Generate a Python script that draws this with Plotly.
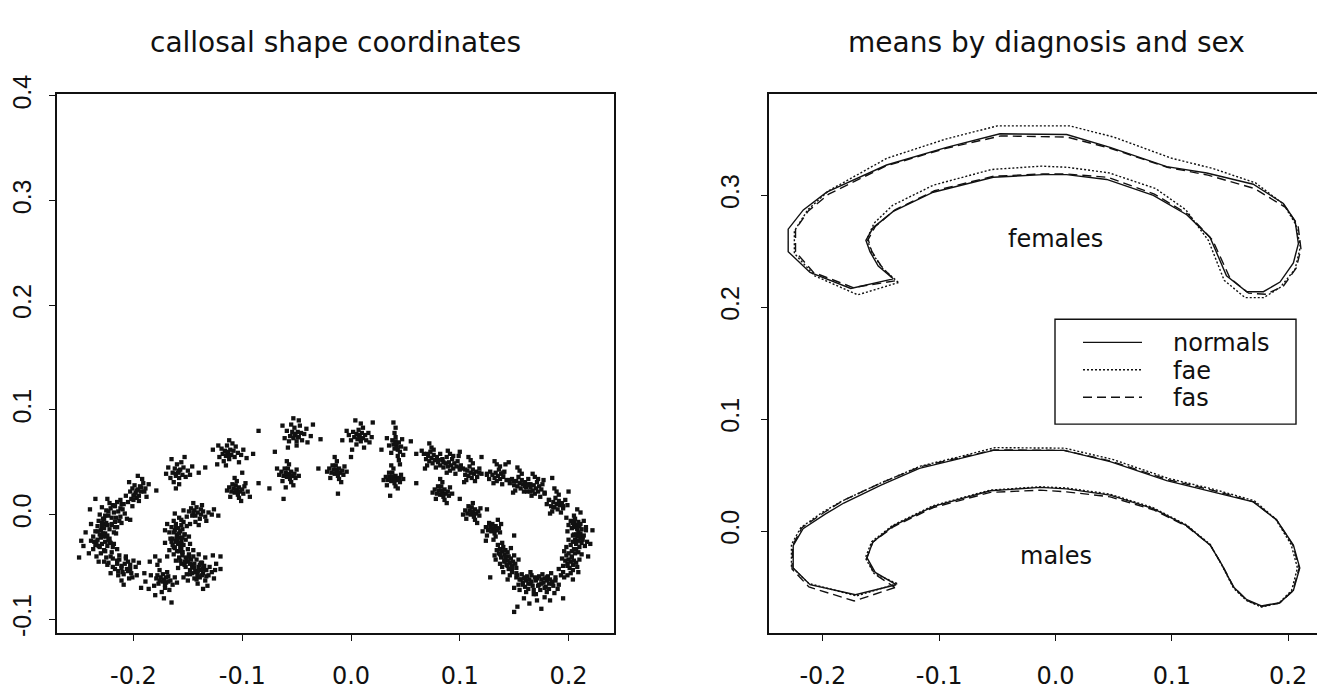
import plotly.graph_objects as go

# ---------------------------------------------------------------------------
# Landmark clouds (all subjects), coordinates in thousandths
# ---------------------------------------------------------------------------
outer_left = [
    # landmark near (-0.218, 0.002)
    (-218,2),(-216,-3),(-221,6),(-214,3),(-223,-1),(-219,9),(-212,-2),(-225,4),(-217,-7),(-210,5),(-222,11),
    (-227,-4),(-215,12),(-208,1),(-220,-10),(-229,7),(-213,-6),(-224,15),(-206,-4),(-231,0),(-211,10),(-226,-9),
    # (-0.227, -0.013)
    (-227,-13),(-224,-10),(-230,-15),(-226,-18),(-229,-8),(-222,-14),(-233,-11),(-225,-21),(-231,-19),(-220,-9),
    (-228,-4),(-235,-16),(-223,-24),(-218,-17),(-232,-6),(-237,-21),(-226,-1),(-215,-12),(-239,-9),(-221,-27),
    (-234,-26),(-244,-17),
    # (-0.229, -0.028)
    (-229,-28),(-231,-31),(-226,-26),(-233,-24),(-227,-34),(-224,-30),(-235,-29),(-230,-37),(-222,-23),(-237,-33),
    (-228,-21),(-220,-36),(-234,-40),(-225,-41),(-239,-25),(-218,-28),(-232,-45),(-241,-37),(-223,-46),(-215,-33),
    (-246,-30),(-250,-41),
    # (-0.208, -0.047)
    (-208,-47),(-211,-49),(-205,-45),(-213,-43),(-206,-52),(-203,-48),(-215,-47),(-210,-55),(-200,-44),(-217,-52),
    (-207,-40),(-202,-56),(-214,-58),(-198,-50),(-219,-42),(-204,-61),(-195,-46),(-221,-56),(-211,-63),(-197,-58),
    (-224,-48),(-209,-67),
    # (-0.198, 0.021)
    (-198,21),(-196,24),(-200,18),(-194,27),(-202,15),(-197,16),(-193,22),(-203,22),(-191,30),(-205,12),(-199,28),
    (-195,13),(-189,25),(-207,18),(-192,34),(-201,8),(-186,29),(-209,10),(-196,37),(-204,31),(-188,17),(-212,6),
    # (-0.172, -0.062)
    (-172,-62),(-170,-65),(-175,-60),(-168,-59),(-177,-66),(-173,-57),(-166,-63),(-179,-61),(-171,-70),(-164,-67),
    (-176,-53),(-181,-68),(-169,-55),(-162,-60),(-174,-74),(-184,-58),(-167,-72),(-160,-65),(-178,-48),(-186,-71),
    (-172,-80),(-165,-84),(-180,-77),(-189,-64),
    # dense core of the band
    (-220,-3),(-223,3),(-225,-8),(-228,-18),(-230,-22),(-232,-30),(-226,-35),(-221,-40),(-215,-44),(-211,-51),
    (-205,-54),(-213,-39),(-219,-31),(-224,-20),(-229,-12),(-216,-18),(-222,-26),(-217,8),(-211,-8),(-207,-42),
    (-203,-52),(-217,-12),(-233,-16),(-236,-26),(-227,-45),(-219,-50),(-214,-54),(-209,-57),(-201,-60),(-212,14),
    (-203,-5),(-199,19),(-197,23),(-201,25),(-195,18),(-193,26),(-200,14),(-190,22),
    (-173,-64),(-170,-60),(-176,-63),(-171,-67),(-168,-64),(-178,-58),
]

genu_hook = [
    # (-0.141, 0.002)
    (-141,2),(-144,4),(-138,0),(-146,-1),(-136,3),(-142,7),(-149,3),(-134,-2),(-139,-4),(-147,6),(-131,2),
    (-143,-7),(-151,-2),(-137,9),(-128,0),(-145,11),(-133,-6),(-154,4),(-140,-10),(-126,5),(-148,-9),(-122,-1),
    # (-0.159, -0.013)
    (-159,-13),(-161,-9),(-157,-16),(-162,-15),(-156,-10),(-160,-19),(-163,-6),(-155,-14),(-158,-22),(-165,-12),
    (-153,-19),(-161,-25),(-167,-17),(-154,-7),(-158,-3),(-169,-9),(-151,-11),(-164,-23),(-156,-28),(-171,-15),
    (-149,-21),(-162,1),
    # (-0.159, -0.028)
    (-159,-28),(-157,-31),(-161,-26),(-156,-25),(-162,-32),(-158,-35),(-160,-21),(-154,-29),(-164,-29),(-155,-36),
    (-163,-38),(-152,-24),(-166,-23),(-158,-41),(-150,-33),(-167,-34),(-153,-19),(-161,-44),(-148,-28),(-169,-40),
    (-156,-47),(-171,-27),
    # (-0.147, -0.043)
    (-147,-43),(-150,-45),(-145,-40),(-149,-38),(-144,-47),(-152,-41),(-146,-50),(-142,-43),(-153,-48),(-148,-53),
    (-140,-38),(-155,-36),(-143,-55),(-151,-57),(-138,-46),(-157,-44),(-145,-34),(-136,-52),(-154,-60),(-141,-59),
    (-159,-51),(-134,-41),
    # (-0.138, -0.053)
    (-138,-53),(-136,-56),(-140,-50),(-135,-49),(-141,-57),(-133,-53),(-139,-60),(-143,-54),(-131,-58),(-137,-46),
    (-144,-61),(-130,-50),(-134,-63),(-146,-48),(-128,-55),(-141,-66),(-126,-61),(-148,-57),(-132,-68),(-124,-47),
    (-127,-39),(-125,-53),(-150,-63),(-136,-71),
    # dense core of the hook
    (-143,-1),(-138,5),(-145,2),(-156,-5),(-161,-12),(-158,-18),(-163,-17),(-160,-24),(-157,-27),(-163,-31),
    (-160,-35),(-155,-39),(-151,-43),(-148,-47),(-144,-51),(-141,-54),(-137,-58),(-152,-50),(-149,-40),(-146,-56),
    (-155,-22),(-165,-26),(-156,-33),(-153,-45),(-139,-48),(-133,-59),(-142,-62),
]

upper_arc = [
    # (-0.159, 0.040)
    (-159,40),(-157,43),(-161,37),(-155,38),(-162,44),(-158,35),(-164,40),(-154,45),(-160,48),(-152,36),(-166,35),
    (-156,50),(-163,31),(-150,42),(-168,45),(-158,29),(-148,38),(-165,53),(-153,55),(-170,39),(-146,46),(-161,25),
    (-158,42),(-161,39),
    # (-0.113, 0.059)
    (-113,59),(-111,62),(-115,56),(-110,57),(-116,61),(-112,53),(-108,61),(-118,58),(-114,66),(-107,55),(-119,63),
    (-109,68),(-117,51),(-104,59),(-121,55),(-106,65),(-112,71),(-101,57),(-122,66),(-115,47),(-99,62),(-96,54),
    (-103,50),(-114,60),(-112,57),
    # (-0.051, 0.076)
    (-51,76),(-49,79),(-53,73),(-48,74),(-54,79),(-50,70),(-46,78),(-56,75),(-52,83),(-45,71),(-57,70),(-47,85),
    (-55,86),(-43,77),(-59,80),(-50,66),(-41,82),(-61,73),(-48,90),(-40,69),(-58,64),(-63,85),(-37,75),(-53,92),
    (-52,77),(-49,74),
    # (0.008, 0.075)
    (8,75),(10,78),(6,72),(11,73),(5,77),(9,70),(13,76),(3,74),(7,81),(14,71),(2,79),(11,83),(5,67),(16,78),
    (0,71),(9,87),(17,69),(-2,76),(12,64),(4,90),(-4,80),(19,74),(1,62),(-8,71),(7,76),(9,73),
    # (0.042, 0.066)
    (42,66),(41,70),(43,62),(40,63),(44,69),(39,67),(45,60),(41,74),(43,56),(38,71),(46,65),(40,78),(44,52),
    (37,59),(47,72),(41,83),(35,66),(48,57),(39,88),(45,48),(33,73),(50,63),(42,64),(41,68),
    # (0.074, 0.054)
    (74,54),(76,57),(72,51),(77,52),(71,56),(75,49),(73,60),(79,55),(69,53),(76,62),(70,47),(80,50),(67,58),
    (74,64),(82,58),(68,44),(78,45),(65,61),(72,68),(84,53),
    # (0.092, 0.047)
    (92,47),(90,50),(94,44),(89,46),(95,49),(91,42),(93,53),(87,49),(97,46),(88,40),(94,56),(85,45),(98,51),
    (91,58),(96,39),(84,52),(100,43),(89,61),(82,47),(99,56),
    # (0.110, 0.040)
    (110,40),(112,43),(108,37),(113,39),(107,42),(111,35),(109,46),(115,41),(105,38),(112,49),(106,33),(116,36),
    (103,44),(110,52),(118,44),(104,31),(114,32),(101,47),(108,55),(120,39),
    # (0.135, 0.037)
    (135,37),(133,40),(137,34),(132,35),(138,39),(134,32),(136,43),(130,38),(140,36),(131,30),(137,46),(128,41),
    (141,41),(134,48),(139,29),(127,34),(143,33),(132,51),(125,39),(142,48),
    # (0.155, 0.030)
    (155,30),(157,33),(153,27),(158,29),(152,32),(156,25),(154,36),(160,31),(150,28),(157,39),(151,23),(161,26),
    (148,34),(155,42),(163,34),(149,21),(159,22),(146,30),(153,45),(165,29),
    # (0.170, 0.025)
    (170,25),(168,28),(172,22),(167,23),(173,27),(169,20),(171,31),(165,26),(175,24),(166,18),(172,34),(163,29),
    (176,29),(169,36),(174,17),(162,22),(178,21),(167,39),(160,27),(177,33),
    # (0.189, 0.010)
    (189,10),(191,13),(187,7),(192,9),(186,12),(190,5),(188,16),(194,11),(184,8),(191,19),(185,3),(195,6),
    (182,14),(189,22),(197,14),(183,1),(193,2),(180,10),(187,25),(199,9),
    # dense band between the upper landmarks
    (80,52),(85,50),(100,45),(105,43),(118,40),(125,38),(145,33),(150,32),(162,28),(165,22),(178,20),(182,14),
    (186,7),(195,8),(88,55),(70,58),(140,40),
]

splenium = [
    # (0.207, -0.010)
    (207,-10),(209,-7),(205,-12),(210,-11),(204,-8),(208,-14),(206,-4),(211,-9),(203,-13),(209,-17),(202,-6),
    (212,-14),(205,-1),(207,-19),(214,-6),(200,-10),(211,2),(204,-20),(216,-12),(199,-16),(208,5),(213,-21),
    # (0.209, -0.025)
    (209,-25),(207,-28),(211,-23),(206,-24),(212,-27),(208,-21),(210,-31),(204,-26),(213,-24),(207,-33),(211,-18),
    (202,-29),(215,-30),(209,-36),(205,-19),(214,-20),(200,-24),(212,-38),(217,-26),(203,-35),(198,-31),(216,-15),
    # (0.202, -0.045)
    (202,-45),(204,-48),(200,-43),(205,-44),(199,-47),(203,-41),(201,-51),(207,-46),(197,-44),(204,-53),(198,-39),
    (208,-50),(195,-49),(202,-56),(206,-37),(194,-42),(210,-43),(199,-58),(191,-52),(209,-55),(196,-35),(204,-62),
    # (0.180, -0.063)
    (180,-63),(182,-66),(178,-61),(183,-62),(177,-65),(181,-59),(179,-69),(185,-64),(175,-62),(182,-71),(176,-57),
    (186,-68),(173,-67),(180,-74),(188,-60),(174,-72),(184,-56),(171,-61),(187,-75),(178,-79),(191,-67),(170,-76),
    (183,-82),(193,-58),
    # (0.161, -0.063)
    (161,-63),(163,-66),(159,-61),(164,-62),(158,-65),(162,-59),(160,-69),(166,-64),(156,-62),(163,-71),(157,-57),
    (167,-68),(154,-67),(161,-74),(169,-60),(155,-72),(165,-55),(152,-60),(168,-76),(159,-80),(150,-70),(164,-85),
    (153,-88),(171,-82),
    # (0.146, -0.046)
    (146,-46),(148,-49),(144,-44),(149,-45),(143,-48),(147,-42),(145,-52),(151,-47),(141,-45),(148,-55),(142,-40),
    (152,-51),(139,-50),(146,-58),(154,-43),(140,-55),(150,-39),(137,-47),(153,-58),(144,-62),
    # (0.139, -0.035)
    (139,-35),(141,-38),(137,-33),(142,-34),(136,-37),(140,-31),(138,-41),(144,-36),(134,-34),(141,-44),(135,-29),
    (145,-40),(132,-39),(139,-27),(147,-32),(133,-43),
    # dense core of the posterior bulb
    (160,-60),(165,-66),(170,-63),(175,-66),(180,-60),(185,-66),(178,-70),(168,-72),(158,-67),(152,-56),(148,-51),
    (144,-49),(142,-41),(137,-38),(155,-62),(172,-68),(188,-63),(195,-55),(199,-49),(203,-40),(205,-33),(207,-27),
    (210,-20),(208,-13),(205,-6),(200,-37),(196,-60),(190,-71),(173,-59),(166,-58),
]

inner_arc = [
    # (0.131, -0.014)
    (131,-14),(133,-11),(129,-16),(134,-15),(128,-12),(132,-18),(130,-9),(136,-13),(126,-15),(133,-21),(127,-8),
    (137,-17),(124,-12),(131,-24),(138,-9),(125,-20),(135,-5),(121,-16),(130,-13),(132,-15),
    # (0.112, 0.002)
    (112,2),(114,5),(110,0),(115,1),(109,4),(113,-2),(111,7),(117,3),(107,1),(114,-5),(108,8),(118,-1),(105,4),
    (112,11),(119,6),(106,-4),(116,-8),(103,0),(111,3),(113,0),
    # (0.084, 0.021)
    (84,21),(86,24),(82,19),(87,20),(81,23),(85,17),(83,27),(89,22),(79,20),(86,14),(80,27),(90,18),(77,24),
    (84,31),(91,26),(78,15),(88,11),(75,21),(82,34),(93,20),(84,19),(83,23),
    # (0.039, 0.034)
    (39,34),(41,37),(37,32),(42,33),(36,36),(40,30),(38,40),(44,35),(34,33),(41,27),(35,40),(45,31),(32,36),
    (39,44),(46,38),(33,28),(43,25),(30,33),(37,47),(48,34),(38,36),(40,33),
    # (-0.013, 0.041)
    (-13,41),(-11,44),(-15,39),(-10,40),(-16,43),(-12,37),(-14,47),(-8,42),(-18,40),(-11,34),(-17,47),(-7,38),
    (-20,44),(-13,51),(-6,46),(-19,35),(-9,31),(-22,41),(-15,55),(-4,41),(-12,40),(-14,43),
    # (-0.057, 0.038)
    (-57,38),(-55,41),(-59,36),(-54,37),(-60,40),(-56,34),(-58,44),(-52,39),(-62,37),(-55,31),(-61,44),(-51,35),
    (-64,41),(-57,48),(-50,43),(-63,32),(-53,28),(-66,38),(-59,51),(-48,37),(-60,26),(-68,44),(-56,37),(-58,39),
    # (-0.105, 0.023)
    (-105,23),(-103,26),(-107,21),(-102,22),(-108,25),(-104,19),(-106,28),(-100,24),(-110,22),(-103,16),(-109,29),
    (-99,20),(-112,26),(-105,32),(-98,27),(-111,17),(-101,13),(-114,23),(-95,22),(-107,35),(-93,17),(-97,30),
    (-104,22),(-106,24),
]

stray_points = [
    (-140,40),(-179,23),(-185,-45),(-180,-40),(-176,-44),(-134,45),(-123,48),(-127,62),(-90,58),(-35,86),
    (-28,72),(20,88),(28,62),(55,70),(60,58),(100,60),(120,55),(145,50),(185,35),(200,22),(220,-28),(218,-40),
    (222,-15),(195,-80),(175,-90),(150,-93),(128,-60),(124,-25),(150,-20),(-248,-25),(-240,5),(-235,15),
    (-193,-70),(-190,-56),(-120,-40),(-120,-52),(-85,30),(-75,25),(-30,44),(0,55),(60,30),(100,15),(125,5),
    (198,-3),(-100,40),(-62,15),(-12,20),(36,18),(-85,80),(-70,60),
]

# ---------------------------------------------------------------------------
# Mean outlines by diagnosis and sex (thousandths)
# ---------------------------------------------------------------------------
females_normals = [
    (-139.5,225.3),(-176,216.7),(-211,231),(-229.8,249.6),(-229.8,269.7),(-216.8,286.9),(-196.7,302.7),
    (-145.2,327),(-93.6,342.8),(-47.7,354.9),(9.6,354.3),(46.9,342.8),(95.6,325.6),(130,319.9),(170,309.8),
    (195.9,292.6),(206,276.9),(208.8,256.8),(204.5,239.6),(193,222.4),(178.7,213.8),(164.4,213.8),(147,228),
    (132.8,262.5),(112.8,282.6),(84.1,299.8),(44,314.1),(9.6,318.4),(-10.5,318.4),(-53.5,316.1),(-105.1,302.7),
    (-139.5,285.5),(-156.7,271.1),(-163,259.7),(-159.5,249.6),(-152.4,236.7),(-139.5,225.3),
]
females_fae = [
    (-135,222),(-170,211),(-207,228),(-224.5,248),(-224.5,268),(-213,287),(-195,304),(-145,333),(-95,350),
    (-50,362),(12,362),(50,352),(100,333),(135,324),(172,311),(196,292),(206.5,274),(210.5,254),(206,234),
    (193,217.5),(179,208.5),(163,208.5),(145,224),(131.5,259.5),(112,287),(86,306),(46,320),(10,325),(-12,326),
    (-55,323),(-105,309),(-140,291),(-156,275),(-162,261),(-158,249),(-149,235),(-135,222),
]
females_fas = [
    (-138,223.5),(-174,217.5),(-208,231),(-223.5,249.5),(-223.5,269.5),(-212.5,286),(-195,301),(-146,326),
    (-94,342),(-47,353),(10,352),(47,342),(96,325),(131,318),(171,306),(198,289),(208.5,273),(211,252),
    (207,235),(196,219),(181,211.5),(166,212.5),(150,226),(135,260),(114,283),(85,301),(45,316),(9,319),
    (-11,319),(-53,317),(-104,304),(-138,287),(-155,272),(-161,260.5),(-158,250),(-150,237),(-138,223.5),
]
males_normals = [
    (-137,-48),(-172,-57),(-211,-48),(-225.5,-33),(-225.5,-13),(-217,2),(-198,15),(-182,25),(-150,41),
    (-117,56),(-85,64),(-53.5,72),(7,72),(47,62),(95.6,45),(136,35),(170,26),(190,10),(204.5,-12.6),(210,-33),
    (204.5,-53),(193,-64),(177,-67),(164,-61),(153,-50),(143,-30),(133,-12.6),(113,4.6),(84,20),(47,32),
    (9.6,37.6),(-13,39),(-56,36),(-105,22),(-139.5,4.6),(-157,-9.7),(-162,-24),(-155,-37),(-137,-48),
]
males_fae = [
    (-136,-47),(-171,-58),(-212,-47),(-227,-32),(-227,-12),(-219,3),(-200,17),(-183,27),(-150,43),(-116,58),
    (-84,66),(-52,74.5),(8,74),(49,64),(97,47),(137,37),(171,27),(189,11),(202.5,-12),(208,-33),(203,-53),
    (192,-64.5),(177,-68),(164,-62),(153,-51),(143,-30.5),(133,-12),(112.5,5.5),(83.5,21),(46.5,33),(9,38.5),
    (-13.5,39.5),(-56.5,36.5),(-105.5,22.5),(-140,5),(-158,-9.5),(-163.5,-24),(-156,-38),(-136,-47),
]
males_fas = [
    (-138,-50.5),(-173,-62.5),(-212,-50),(-226.5,-34),(-226,-13),(-218,3),(-199,16.5),(-183,27),(-150,43),
    (-116,57.5),(-84,65),(-53,72.5),(7.5,72),(47.5,62.5),(96,46),(136.5,36),(170.5,26),(190,10),(204,-12.5),
    (209.5,-33),(204,-53.5),(192.5,-64.5),(177,-67.5),(164.5,-62),(153.5,-50.5),(143,-30),(133,-12.5),(113,4),
    (84,19),(47,30.5),(9.5,35),(-13,36.5),(-56,34.5),(-105,21),(-139,4),(-157,-10),(-162.5,-24.5),(-155.5,-38.5),
    (-138,-50.5),
]

group_names = ["normals", "fae", "fas"]
group_dash = {"normals": "solid", "fae": "2px,2px", "fas": "9px,5px"}

x_ticks = [-0.2, -0.1, 0.0, 0.1, 0.2]
x_tick_text = ["-0.2", "-0.1", "0.0", "0.1", "0.2"]
y_ticks_left = [-0.1, 0.0, 0.1, 0.2, 0.3, 0.4]
y_tick_text_left = ["-0.1", "0.0", "0.1", "0.2", "0.3", "0.4"]
y_ticks_right = [0.0, 0.1, 0.2, 0.3]
y_tick_text_right = ["0.0", "0.1", "0.2", "0.3"]

# ---------------------------------------------------------------------------
W, H = 1317, 690
INK = "#111111"


def split(points):
    return [p[0] / 1000 for p in points], [p[1] / 1000 for p in points]


fig = go.Figure()

cloud = outer_left + genu_hook + upper_arc + splenium + inner_arc + stray_points
cx, cy = split(cloud)
fig.add_trace(go.Scatter(
    x=cx, y=cy, mode="markers", xaxis="x", yaxis="y",
    marker=dict(symbol="square", size=4.3, color=INK, line=dict(width=0)),
    hoverinfo="skip",
))

outlines = [
    ("normals", females_normals), ("fae", females_fae), ("fas", females_fas),
    ("normals", males_normals), ("fae", males_fae), ("fas", males_fas),
]
for name, pts in outlines:
    ox, oy = split(pts)
    fig.add_trace(go.Scatter(
        x=ox, y=oy, mode="lines", xaxis="x2", yaxis="y2", name=name,
        line=dict(color=INK, width=1.4, dash=group_dash[name]),
        hoverinfo="skip",
    ))

axis_style = dict(
    showgrid=False, zeroline=False, showline=True, linecolor=INK, linewidth=1.6,
    ticks="outside", ticklen=6, tickwidth=1.2, tickcolor=INK,
)
x_font = dict(family="DejaVu Sans", size=24, color=INK)
y_font = dict(family="Liberation Sans", size=25, color=INK)

y_dom = [52 / H, 612 / H]

fig.update_layout(
    width=W, height=H,
    margin=dict(l=0, r=0, t=0, b=0),
    paper_bgcolor="white", plot_bgcolor="white",
    showlegend=False,
    xaxis=dict(domain=[57 / W, 614 / W], range=[-0.2703, 0.2418], anchor="y", mirror=True,
               tickvals=x_ticks, ticktext=x_tick_text, tickfont=x_font, ticklabelstandoff=14,
               **axis_style),
    yaxis=dict(domain=y_dom, range=[-0.1131, 0.4018], anchor="x", mirror=True,
               tickvals=y_ticks_left, ticktext=y_tick_text_left, tickfont=y_font, tickangle=-90,
               ticklabelstandoff=8, **axis_style),
    xaxis2=dict(domain=[769 / W, 1.0], range=[-0.2463, 0.2248], anchor="y2", mirror=True,
                tickvals=x_ticks, ticktext=x_tick_text, tickfont=x_font, ticklabelstandoff=14,
                **axis_style),
    yaxis2=dict(domain=y_dom, range=[-0.0911, 0.3904], anchor="x2", mirror=False,
                tickvals=y_ticks_right, ticktext=y_tick_text_right, tickfont=y_font, tickangle=-90,
                ticklabelstandoff=12, **axis_style),
)

title_font = dict(family="DejaVu Sans", size=28, color=INK)
label_font = dict(family="DejaVu Sans", size=24, color=INK)

annotations = [
    dict(text="callosal shape coordinates", x=335 / W, y=1 - 24 / H, xref="paper", yref="paper",
         xanchor="center", yanchor="middle", showarrow=False, font=title_font),
    dict(text="means by diagnosis and sex", x=1046 / W, y=1 - 24 / H, xref="paper", yref="paper",
         xanchor="center", yanchor="middle", showarrow=False, font=title_font),
    dict(text="females", x=0.0, y=0.2605, xref="x2", yref="y2", xanchor="center", yanchor="middle",
         showarrow=False, font=label_font),
    dict(text="males", x=0.0, y=-0.0224, xref="x2", yref="y2", xanchor="center", yanchor="middle",
         showarrow=False, font=label_font),
]

# Legend box for the outline styles
legend_rows_px = [336, 364.5, 393]
shapes = [
    dict(type="rect", xref="paper", yref="paper", x0=1055 / W, x1=1296 / W, y0=1 - 421 / H, y1=1 - 312 / H,
         line=dict(color=INK, width=1.4), fillcolor="white", layer="above"),
]
for name, ypx in zip(group_names, legend_rows_px):
    shapes.append(dict(type="line", xref="paper", yref="paper", x0=1083 / W, x1=1142 / W,
                       y0=1 - ypx / H, y1=1 - ypx / H,
                       line=dict(color=INK, width=1.4, dash=group_dash[name]), layer="above"))
    annotations.append(dict(text=name, x=1171 / W, y=1 - (ypx + 1) / H, xref="paper", yref="paper",
                            xanchor="left", yanchor="middle", showarrow=False, font=label_font))

fig.update_layout(shapes=shapes, annotations=annotations)

fig.write_html("out.html")
